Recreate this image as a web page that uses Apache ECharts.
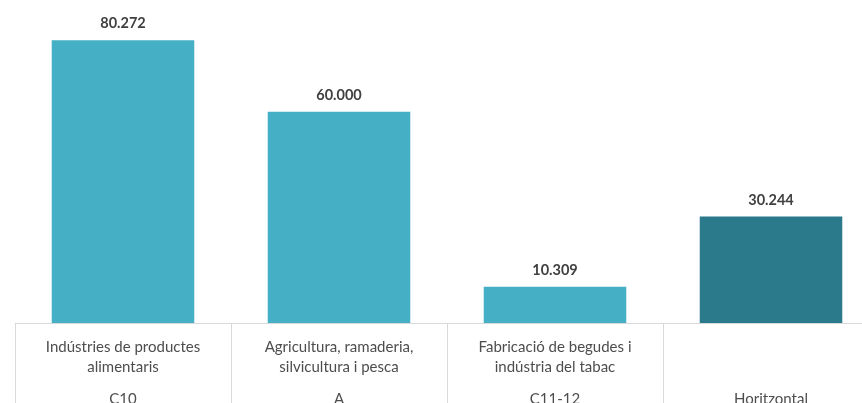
<!DOCTYPE html>
<html>
<head>
<meta charset="utf-8">
<script src="https://cdn.jsdelivr.net/npm/echarts@6/dist/echarts.min.js"></script>
<style>
html,body{margin:0;padding:0;background:#fff;}
#chart{width:862px;height:403px;}
</style>
</head>
<body>
<div id="chart"></div>
<script>
const categoryNames = ["Indústries de productes\nalimentaris", "Agricultura, ramaderia,\nsilvicultura i pesca", "Fabricació de begudes i\nindústria del tabac", ""];
const categoryCodes = ["C10", "A", "C11-12", "Horitzontal"];
const values = [80.272, 60.000, 10.309, 30.244];
const valueLabels = ["80.272", "60.000", "10.309", "30.244"];
const barColors = ["#44afc5", "#44afc5", "#44afc5", "#2b7a8b"];

const chart = echarts.init(document.getElementById('chart'), null, {renderer: 'canvas'});

chart.setOption({
  backgroundColor: '#ffffff',
  animation: false,
  grid: {left: 15, width: 864, top: 6, bottom: 80, containLabel: false, outerBoundsMode: 'none'},
  xAxis: {
    type: 'category',
    data: categoryCodes,
    axisLine: {show: true, lineStyle: {color: '#d9d9d9', width: 1}},
    axisTick: {show: true, alignWithLabel: false, length: 90, lineStyle: {color: '#d9d9d9', width: 1}},
    axisLabel: {
      interval: 0,
      margin: 14,
      verticalAlign: 'top',
      formatter: function (val, idx) {
        const lines = categoryNames[idx] ? categoryNames[idx].split('\n') : [' ', ' '];
        return lines.map(l => '{a|' + (l || ' ') + '}').join('\n') + '\n{c|' + categoryCodes[idx] + '}';
      },
      rich: {
        a: {fontFamily: 'Lato', fontSize: 15, color: '#4d4d4d', lineHeight: 20, align: 'center'},
        c: {fontFamily: 'Lato', fontSize: 15, color: '#4d4d4d', lineHeight: 44, align: 'center'}
      }
    }
  },
  yAxis: {
    type: 'value', min: 0, max: 90, show: false,
    splitLine: {show: false}
  },
  series: [{
    type: 'bar',
    barWidth: '66%',
    data: values.map((v, i) => ({value: v, itemStyle: {color: barColors[i]}})),
    label: {
      show: true,
      position: 'top',
      distance: 9,
      fontFamily: 'Lato',
      fontSize: 14.5,
      fontWeight: 'bold',
      color: '#404040',
      formatter: p => valueLabels[p.dataIndex]
    }
  }]
});
</script>
</body>
</html>
